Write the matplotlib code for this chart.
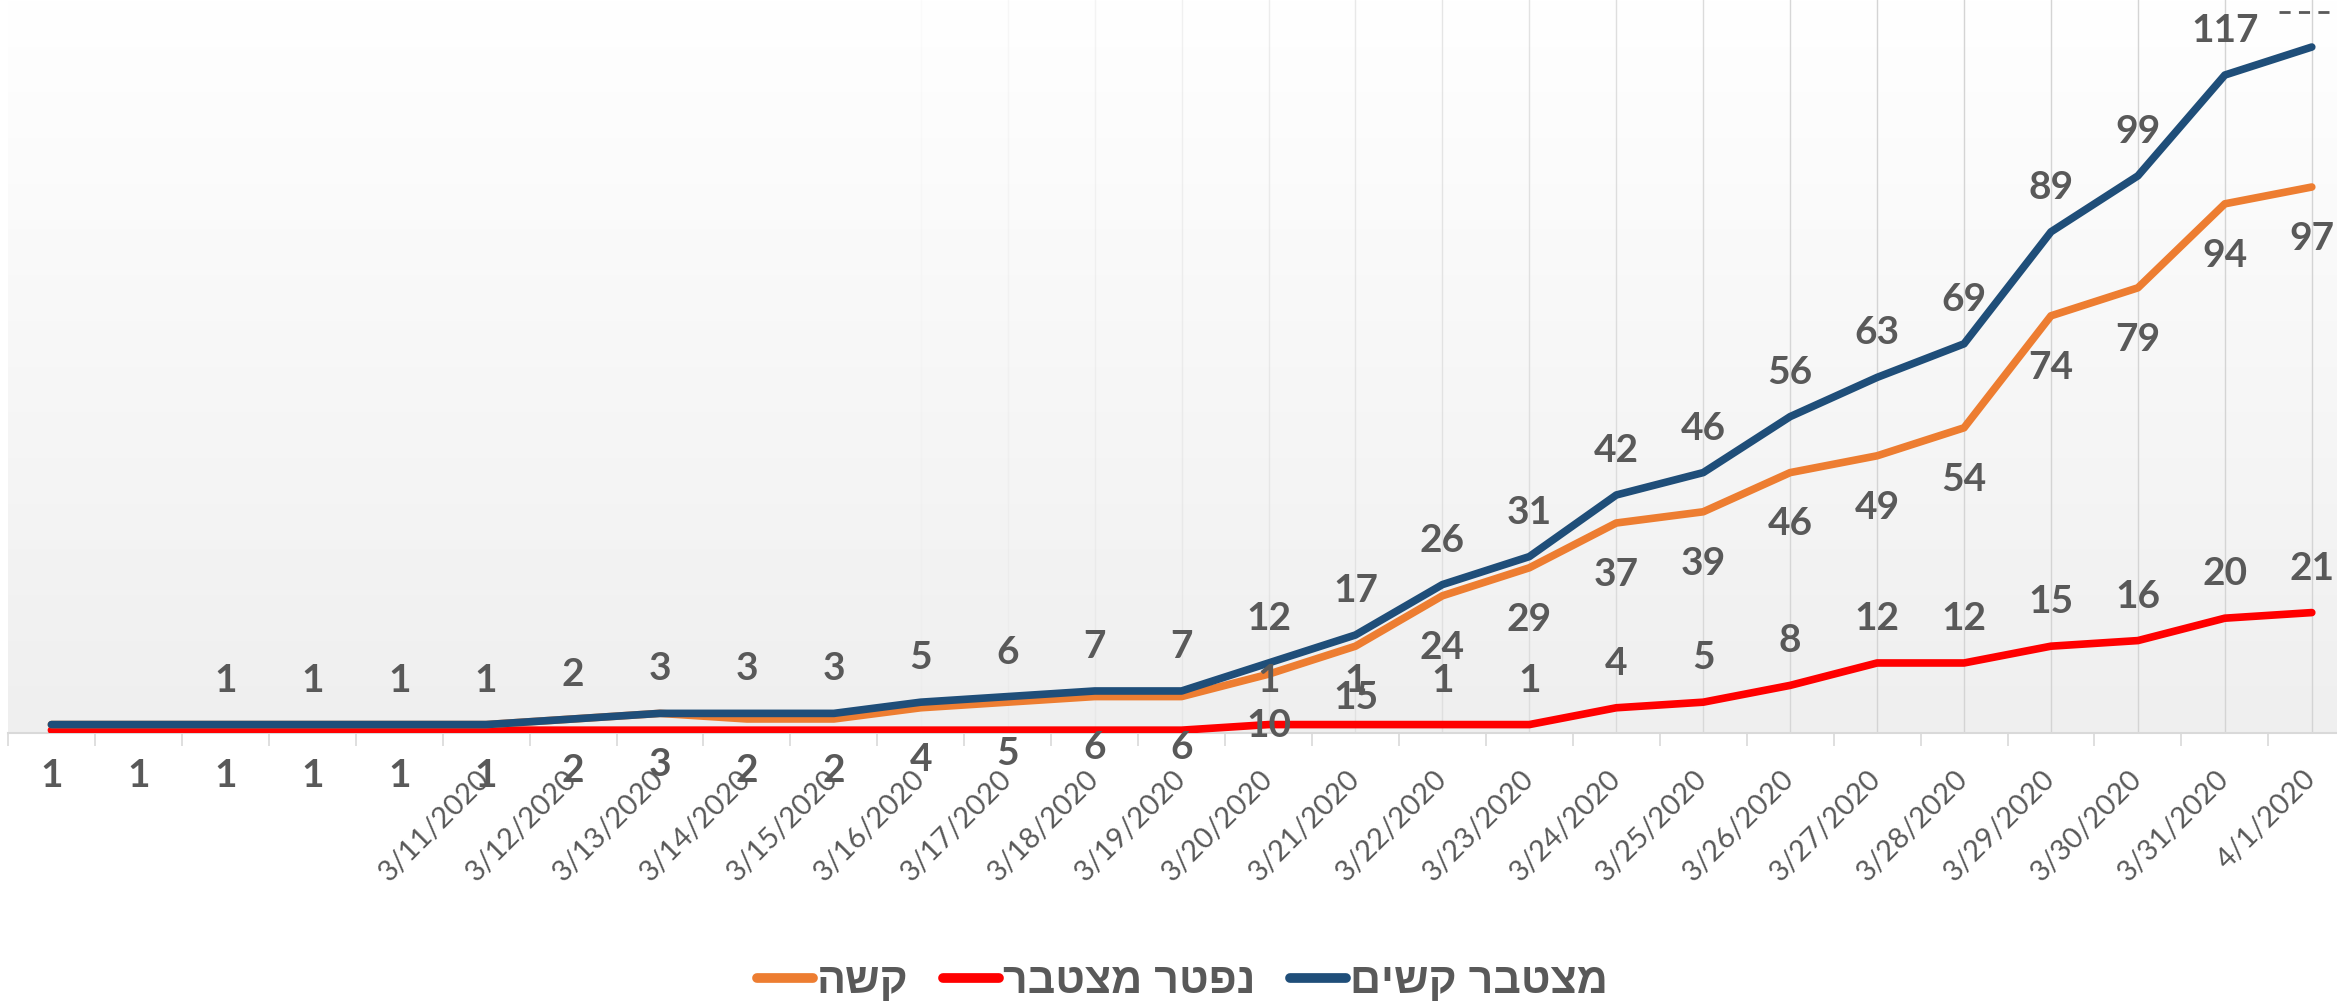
import numpy as np
import matplotlib.pyplot as plt
from matplotlib.colors import LinearSegmentedColormap
from matplotlib.lines import Line2D

# category labels (first five days carry no date text)
dates = ["", "", "", "", "",
         "3/11/2020", "3/12/2020", "3/13/2020", "3/14/2020", "3/15/2020",
         "3/16/2020", "3/17/2020", "3/18/2020", "3/19/2020", "3/20/2020",
         "3/21/2020", "3/22/2020", "3/23/2020", "3/24/2020", "3/25/2020",
         "3/26/2020", "3/27/2020", "3/28/2020", "3/29/2020", "3/30/2020",
         "3/31/2020", "4/1/2020"]

# series values
severe = [1, 1, 1, 1, 1, 1, 2, 3, 2, 2, 4, 5, 6, 6, 10, 15, 24, 29, 37, 39,
          46, 49, 54, 74, 79, 94, 97]
cum_severe = [1, 1, 1, 1, 1, 1, 2, 3, 3, 3, 5, 6, 7, 7, 12, 17, 26, 31, 42,
              46, 56, 63, 69, 89, 99, 117, 122]
cum_dead = [0, 0, 0, 0, 0, 0, 0, 0, 0, 0, 0, 0, 0, 0, 1, 1, 1, 1, 4, 5, 8,
            12, 12, 15, 16, 20, 21]

# which data labels are visible in the original
show_severe = [True] * 27
show_cum_severe = [False, False] + [True] * 24 + [False]
show_dead = [False] * 14 + [True] * 13

# legend names (logical order, reversed for display since no bidi)
name_severe = "קשה"
name_dead = "נפטר מצטבר"
name_cum = "מצטבר קשים"

C_BLUE = "#1f4e79"
C_ORANGE = "#ed7d31"
C_RED = "#ff0000"
C_TEXT = "#595959"


def rtl(s):
    return s[::-1]


plt.rcParams["font.family"] = ["Lato", "DejaVu Sans"]

fig = plt.figure(figsize=(23.37, 10.06), dpi=100)
ax = fig.add_axes([0.0034, 0.2714, 0.9966, 0.7286])

x = np.arange(len(dates))
ax.set_xlim(-0.5, 26.29)
ax.set_ylim(-0.5, 130.4)

# plot-area gradient
cmap = LinearSegmentedColormap.from_list("bg", ["#efefef", "#ffffff"])
ax.imshow(np.linspace(0, 1, 256)[:, None], extent=[0, 1, 0, 1], origin="lower",
          transform=ax.transAxes, cmap=cmap, aspect="auto", zorder=0)

# vertical gridlines, fading out towards the left like the original
for i in x:
    a = min(max((i - 9) / 12, 0), 1)
    if a > 0:
        ax.axvline(i, color="#d4d4d4", lw=1, alpha=a, zorder=1)

lw = 5.5
ax.plot(x, cum_dead, color=C_RED, lw=lw, solid_capstyle="round", zorder=3)
ax.plot(x, severe, color=C_ORANGE, lw=lw, solid_capstyle="round", zorder=4)
ax.plot(x, cum_severe, color=C_BLUE, lw=lw, solid_capstyle="round", zorder=5)

lab_kw = dict(textcoords="offset points", ha="center", va="center",
              fontsize=28, fontweight="bold", color=C_TEXT, zorder=6)
for i in x:
    if show_cum_severe[i]:
        ax.annotate(str(cum_severe[i]), (i, cum_severe[i]), xytext=(0, 32), **lab_kw)
    if show_severe[i]:
        ax.annotate(str(severe[i]), (i, severe[i]), xytext=(0, -37), **lab_kw)
    if show_dead[i]:
        ax.annotate(str(cum_dead[i]), (i, cum_dead[i]), xytext=(0, 32), **lab_kw)

# axes styling
for s in ["top", "right", "left"]:
    ax.spines[s].set_visible(False)
ax.spines["bottom"].set_color("#d9d9d9")
ax.spines["bottom"].set_linewidth(1.5)
ax.set_yticks([])
ax.set_xticks(x)
ax.set_xticklabels(dates, rotation=45, ha="right", va="center",
                   rotation_mode="anchor", fontsize=21, color=C_TEXT)
ax.set_xticks(np.arange(-0.5, 26.5, 1), minor=True)
ax.tick_params(axis="x", which="major", length=0, pad=30)
ax.tick_params(axis="x", which="minor", length=9, width=1.2, color="#d9d9d9")

# legend
handles = [Line2D([], [], color=C_ORANGE, lw=7, solid_capstyle="round"),
           Line2D([], [], color=C_RED, lw=7, solid_capstyle="round"),
           Line2D([], [], color=C_BLUE, lw=7, solid_capstyle="round")]
labels = [rtl(name_severe), rtl(name_dead), rtl(name_cum)]
leg = fig.legend(handles, labels, loc="center", bbox_to_anchor=(0.506, 0.024),
                 ncol=3, frameon=False, handlelength=1.3, handletextpad=0.1,
                 columnspacing=0.8,
                 prop={"family": ["Liberation Sans", "DejaVu Sans"],
                       "size": 31, "weight": "bold"})
for t in leg.get_texts():
    t.set_color(C_TEXT)

# short dashed stub at top right of the original
fig.add_artist(Line2D([0.975, 1.0], [0.988, 0.988], color="#595959", lw=2,
                      ls=(0, (4, 3)), transform=fig.transFigure))

fig.savefig("out.png", dpi=100, facecolor="white")
